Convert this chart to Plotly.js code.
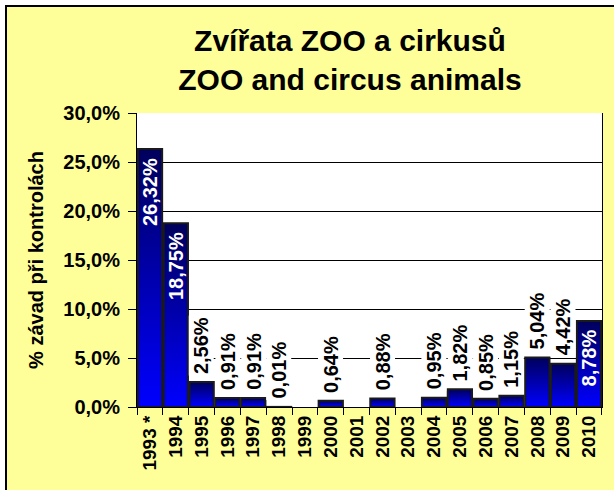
<!DOCTYPE html>
<html>
<head>
<meta charset="utf-8">
<script src="https://cdn.plot.ly/plotly-3.0.1.min.js"></script>
<style>
  html, body { margin: 0; padding: 0; background: #ffffff; overflow: hidden; width: 614px; height: 490px; }
  #frame { position: absolute; left: 5px; top: 5px; width: 640px; height: 520px; border: 2px solid #000; background: #ffff99; }
  #chart { position: absolute; left: 0; top: 0; }
</style>
</head>
<body>
<div id="frame"><div id="chart"></div></div>
<script>
// ---- data ----
const years = ["1993 *", "1994", "1995", "1996", "1997", "1998", "1999", "2000", "2001",
               "2002", "2003", "2004", "2005", "2006", "2007", "2008", "2009", "2010"];
const values = [26.32, 18.75, 2.56, 0.91, 0.91, 0.01, null, 0.64, null,
                0.88, null, 0.95, 1.82, 0.85, 1.15, 5.04, 4.42, 8.78];
const yTicks = [0, 5, 10, 15, 20, 25, 30];
const titleLines = ["Zvířata ZOO a cirkusů", "ZOO and circus animals"];
const yTitle = "% závad při kontrolách";

const FONT = "Liberation Sans, Arial, sans-serif";
const fmt = (v, d) => v.toFixed(d).replace(".", ",") + "%";

const annotations = [];
years.forEach((yr, i) => {
  const v = values[i];
  if (v === null) return;
  const inside = v > 6;
  annotations.push({
    x: i, y: v, xref: "x", yref: "y",   // category index i
    text: "<b>" + fmt(v, 2) + "</b>",
    showarrow: false, textangle: -90,
    yanchor: inside ? "top" : "bottom",
    yshift: inside ? -7 : 6,
    bgcolor: inside ? "rgba(0,0,0,0)" : "#ffffff",
    borderpad: 1,
    font: { family: FONT, size: 20, color: inside ? "#ffffff" : "#000000" }
  });
});

const trace = {
  type: "bar",
  x: years,
  y: values,
  marker: { color: "#0000c8", line: { color: "#1a1a1a", width: 2 } },
  hoverinfo: "none"
};

const layout = {
  width: 607, height: 490,
  margin: { l: 130, r: 12, t: 106, b: 90 },
  paper_bgcolor: "#ffff99",
  plot_bgcolor: "#ffffff",
  bargap: 0.06,
  showlegend: false,
  font: { family: FONT, color: "#000" },
  title: {
    text: "<b>" + titleLines.join("<br>") + "</b>",
    font: { family: FONT, size: 30, color: "#000" },
    x: 0.565, xanchor: "center",
    yref: "container", y: 0.911, yanchor: "top"
  },
  xaxis: {
    type: "category",
    tickangle: -90,
    tickfont: { family: FONT, size: 19, color: "#000", weight: "bold" },
    ticks: "outside", ticklen: 7, tickcolor: "#000", tickwidth: 1,
    tickson: "boundaries",
    showline: true, linecolor: "#000", linewidth: 1,
    showgrid: false,
    automargin: false
  },
  yaxis: {
    range: [0, 30],
    tickmode: "array",
    tickvals: yTicks,
    ticktext: yTicks.map(v => fmt(v, 1)),
    tickfont: { family: FONT, size: 20, color: "#000", weight: "bold" },
    ticks: "outside", ticklen: 8, tickcolor: "#000",
    ticklabelstandoff: 4,
    showline: true, linecolor: "#000", linewidth: 1, mirror: true,
    showgrid: true, gridcolor: "#000", gridwidth: 1,
    zeroline: false,
    automargin: false,
    title: { text: "<b>" + yTitle + "</b>", font: { family: FONT, size: 20, color: "#000" }, standoff: 14 }
  },
  annotations: annotations
};

Plotly.newPlot("chart", [trace], layout, { displayModeBar: false, staticPlot: true }).then(gd => {
  const svg = gd.querySelector(".main-svg");
  const defs = svg.querySelector("defs");
  const ns = "http://www.w3.org/2000/svg";
  const grad = document.createElementNS(ns, "linearGradient");
  grad.setAttribute("id", "barGrad");
  grad.setAttribute("x1", "0"); grad.setAttribute("y1", "0");
  grad.setAttribute("x2", "0"); grad.setAttribute("y2", "1");
  [["0%", "#00005c"], ["100%", "#0000ff"]].forEach(([o, c]) => {
    const s = document.createElementNS(ns, "stop");
    s.setAttribute("offset", o); s.setAttribute("stop-color", c);
    grad.appendChild(s);
  });
  defs.appendChild(grad);
  gd.querySelectorAll(".bars .point path").forEach(p => { p.style.fill = "url(#barGrad)"; });
});
</script>
</body>
</html>
